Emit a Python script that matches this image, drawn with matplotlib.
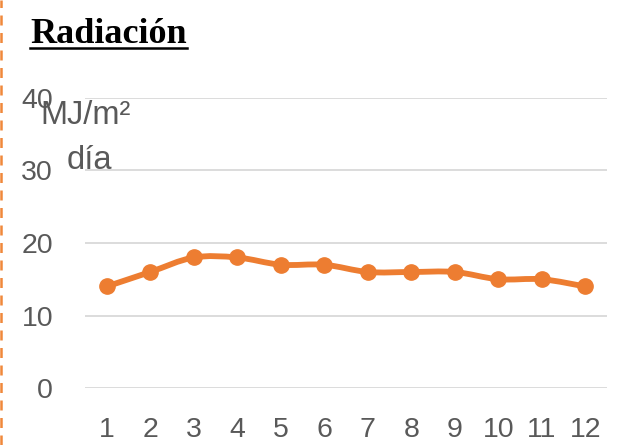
import matplotlib
matplotlib.use("Agg")
import matplotlib.pyplot as plt
from matplotlib.path import Path
from matplotlib.patches import PathPatch
from matplotlib.lines import Line2D

months = [1, 2, 3, 4, 5, 6, 7, 8, 9, 10, 11, 12]
radiation = [14, 16, 18, 18, 17, 17, 16, 16, 16, 15, 15, 14]
y_ticks = [0, 10, 20, 30, 40]

ORANGE = "#ED7D31"
GRAY = "#595959"


def smooth_path(xs, ys):
    # Catmull-Rom style bezier through every point, like a spreadsheet smoothed line
    pts = list(zip(xs, ys))
    verts = [pts[0]]
    codes = [Path.MOVETO]
    n = len(pts)
    for i in range(n - 1):
        p0 = pts[i - 1] if i > 0 else pts[i]
        p1 = pts[i]
        p2 = pts[i + 1]
        p3 = pts[i + 2] if i + 2 < n else pts[i + 1]
        c1 = (p1[0] + (p2[0] - p0[0]) / 6, p1[1] + (p2[1] - p0[1]) / 6)
        c2 = (p2[0] - (p3[0] - p1[0]) / 6, p2[1] - (p3[1] - p1[1]) / 6)
        verts += [c1, c2, p2]
        codes += [Path.CURVE4] * 3
    return Path(verts, codes)


plt.rcParams["font.family"] = ["Liberation Sans", "DejaVu Sans"]

fig = plt.figure(figsize=(6.37, 4.45), dpi=100)
ax = fig.add_axes([0.1334, 0.128, 0.8196, 0.652])

ax.add_patch(PathPatch(smooth_path(months, radiation), facecolor="none",
                       edgecolor=ORANGE, linewidth=4.2, capstyle="round",
                       joinstyle="round", zorder=3))
ax.plot(months, radiation, linestyle="none", marker="o", markersize=11,
        color=ORANGE, zorder=4)

ax.set_xlim(0.5, 12.5)
ax.set_ylim(0, 40)
ax.set_xticks(months)
ax.set_yticks(y_ticks)
ax.yaxis.grid(True, color="#D9D9D9", linewidth=1.3)
ax.set_axisbelow(True)
for side in ax.spines.values():
    side.set_visible(False)
ax.tick_params(axis="both", length=0, labelsize=20.5, labelcolor=GRAY)
ax.tick_params(axis="y", pad=23)
ax.tick_params(axis="x", pad=21)

# unit label sitting over the upper gridlines
fig.text(40 / 637, 1 - 124 / 445, "MJ/m²", fontsize=23.5, color=GRAY,
         ha="left", va="baseline")
fig.text(67 / 637, 1 - 169 / 445, "día", fontsize=23.5, color=GRAY,
         ha="left", va="baseline")

title = fig.text(30 / 637, 1 - 43 / 445, "Radiación", fontsize=26,
                 fontweight="bold", family="Liberation Serif",
                 color="black", ha="left", va="baseline")
fig.canvas.draw()
bb = title.get_window_extent().transformed(fig.transFigure.inverted())
fig.add_artist(Line2D([bb.x0, bb.x1], [1 - 47.5 / 445] * 2,
                      transform=fig.transFigure, color="black", linewidth=1.8))

# dashed orange border on the left edge
fig.add_artist(Line2D([1.5 / 637] * 2, [0, 1], transform=fig.transFigure,
                      color="#F0883A", linewidth=1.8, linestyle=(0, (4, 3))))

fig.savefig("out.png", dpi=100)
